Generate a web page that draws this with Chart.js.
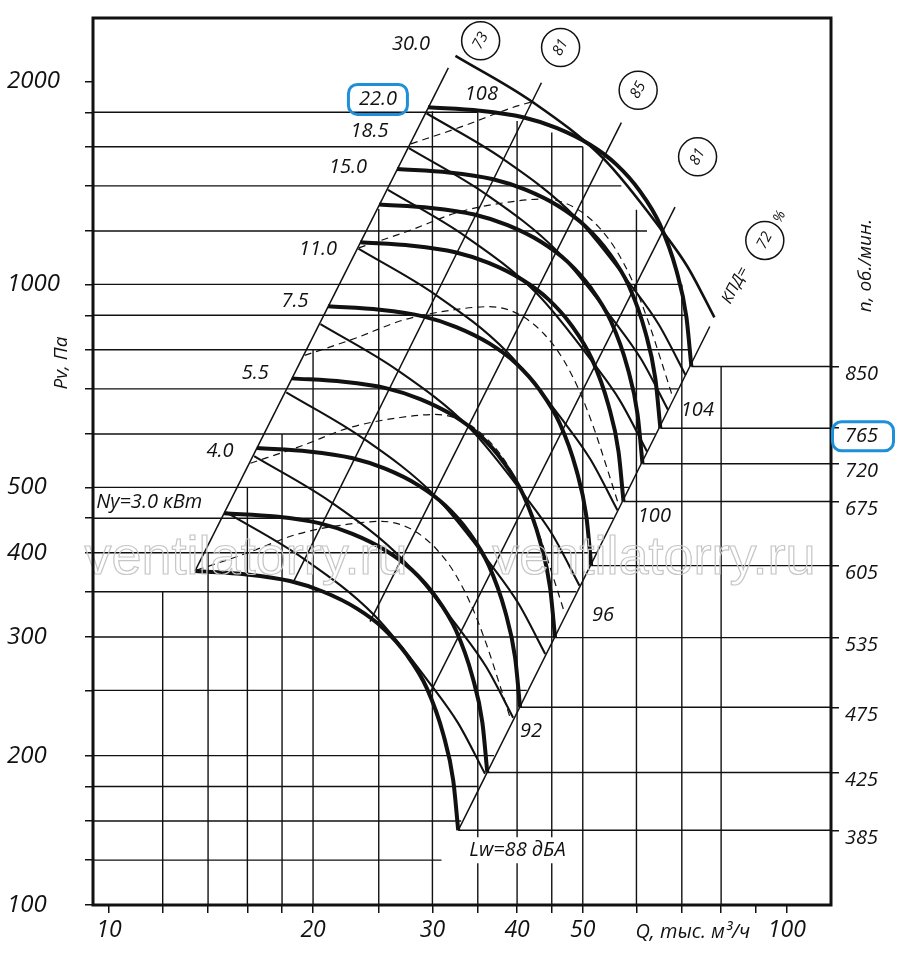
<!DOCTYPE html>
<html lang="ru">
<head>
<meta charset="utf-8">
<title>Аэродинамическая характеристика</title>
<script src="https://cdn.jsdelivr.net/npm/chart.js@4.4.1/dist/chart.umd.min.js"></script>
<style>
  html, body { margin: 0; padding: 0; background: #fff; }
  #wrap { position: relative; width: 900px; height: 957px; }
</style>
</head>
<body>
<div id="wrap"><canvas id="chart"></canvas></div>
<script>
// axis ranges: Q, thousand m3/h and Pv, Pa
const qMin = 9.47, qMax = 116.2;
const pMin = 120.1, pMax = 2484;

// ticks
const qTicks = [10, 12, 14, 16, 18, 20, 25, 30, 35, 40, 45, 50, 60, 70, 80, 90, 100];
const qTickLabels = [10, 20, 30, 40, 50, 100];
const pTicks = [140, 160, 180, 200, 250, 300, 350, 400, 450, 500, 600, 700, 800, 900, 1000, 1200, 1400, 1600, 1800, 2000];
const pTickLabels = [200, 300, 400, 500, 1000, 2000];
const rpmTicks = [385, 425, 475, 535, 605, 675, 720, 765, 850];

// grid lines (stepped working area)
const gridQ = [12, 14, 16, 18, 20, 25, 30, 35, 40, 45, 50, 60, 70, 80];
const gridQTop = [350, 400, 500, 600, 800, 1294, 1807, 1800, 1747, 1680, 1600, 1290, 1000, 754.5];
const gridP = [140, 160, 180, 200, 250, 300, 350, 400, 450, 500, 600, 700, 800, 900, 1000, 1200, 1400, 1600, 1800];
const gridPEnd = [30.94, 33.08, 35.09, 36.99, 41.35, 45.30, 48.93, 52.31, 55.48, 58.48, 64.06, 69.1, 71.9, 71.0, 69.3, 62.2, 57.0, 50.0, 35.0];

// fan curves, one per speed (об./мин.)
const q385 = [13.39, 15.96, 18.49, 20.71, 23.19, 25.38, 27.48, 29.42, 31.12, 32.20, 32.75];
const p385 = [375.7, 371.3, 363.1, 350.1, 330.8, 309.1, 282.4, 252.1, 215.3, 183.7, 155.0];
const q425 = [14.78, 17.62, 20.41, 22.86, 25.60, 28.02, 30.34, 32.48, 34.35, 35.55, 36.15];
const p425 = [457.8, 452.5, 442.5, 426.6, 403.1, 376.7, 344.1, 307.2, 262.4, 223.9, 188.9];
const q475 = [16.52, 19.69, 22.81, 25.55, 28.61, 31.31, 33.90, 36.30, 38.40, 39.73, 40.41];
const p475 = [571.9, 565.2, 552.7, 532.9, 503.5, 470.5, 429.9, 383.7, 327.7, 279.6, 235.9];
const q535 = [18.61, 22.18, 25.69, 28.78, 32.23, 35.27, 38.19, 40.88, 43.25, 44.75, 45.51];
const p535 = [725.5, 717.0, 701.2, 676.1, 638.8, 596.9, 545.3, 486.8, 415.7, 354.7, 299.3];
const q605 = [21.04, 25.08, 29.06, 32.54, 36.44, 39.88, 43.18, 46.23, 48.90, 50.60, 51.46];
const p605 = [927.8, 916.9, 896.6, 864.5, 816.9, 763.3, 697.4, 622.5, 531.7, 453.6, 382.8];
const q675 = [23.48, 27.98, 32.42, 36.31, 40.66, 44.50, 48.18, 51.58, 54.56, 56.46, 57.42];
const p675 = [1154.9, 1141.3, 1116.1, 1076.2, 1016.8, 950.1, 868.1, 774.9, 661.8, 564.7, 476.5];
const q720 = [25.04, 29.85, 34.58, 38.73, 43.37, 47.46, 51.39, 55.02, 58.20, 60.22, 61.25];
const p720 = [1314.0, 1298.6, 1269.9, 1224.4, 1156.9, 1081.0, 987.7, 881.7, 753.0, 642.5, 542.1];
const q765 = [26.61, 31.71, 36.74, 41.15, 46.08, 50.43, 54.60, 58.46, 61.84, 63.98, 65.08];
const p765 = [1483.3, 1466.0, 1433.6, 1382.3, 1306.1, 1220.4, 1115.0, 995.3, 850.0, 725.3, 612.0];
const q850 = [29.56, 35.24, 40.82, 45.72, 51.20, 56.03, 60.67, 64.95, 68.71, 71.09, 72.31];
const p850 = [1831.3, 1809.8, 1769.9, 1706.5, 1612.4, 1506.7, 1376.5, 1228.8, 1049.4, 895.4, 755.5];

// motor power lines, кВт
const qN3 = [14.88, 19.31, 24.61, 30.09, 32.72, 35.87];
const pN3 = [459.4, 392.7, 323.3, 252.1, 223.7, 188.0];
const qN4 = [16.37, 21.25, 27.08, 33.11, 36.01, 39.47];
const pN4 = [556.4, 475.6, 391.6, 305.3, 270.9, 227.7];
const qN55 = [18.26, 23.70, 30.20, 36.92, 40.15, 44.01];
const pN55 = [691.8, 591.3, 486.8, 379.6, 336.8, 283.1];
const qN75 = [20.51, 26.62, 33.93, 41.48, 45.11, 49.45];
const pN75 = [873.2, 746.4, 614.5, 479.2, 425.2, 357.3];
const qN11 = [23.33, 30.29, 38.60, 47.19, 51.31, 56.25];
const pN11 = [1130.0, 966.0, 795.2, 620.1, 550.3, 462.4];
const qN15 = [25.80, 33.48, 42.67, 52.17, 56.73, 62.19];
const pN15 = [1381.1, 1180.6, 971.9, 757.9, 672.5, 565.2];
const qN185 = [27.70, 35.96, 45.82, 56.02, 60.92, 66.78];
const pN185 = [1592.7, 1361.5, 1120.9, 874.0, 775.6, 651.8];
const qN22 = [29.40, 38.17, 48.63, 59.46, 64.66, 70.88];
const pN22 = [1794.2, 1533.7, 1262.7, 984.6, 873.7, 734.2];
const qN30 = [32.44, 42.10, 53.65, 65.59, 71.33, 78.19];
const pN30 = [2183.4, 1866.4, 1536.6, 1198.2, 1063.2, 893.5];

// dashed curves
const qD1 = [13.47, 15.96, 18.92, 22.42, 25.24, 27.96, 30.43, 32.35, 34.27, 36.06, 37.69, 39.13];
const pD1 = [376.9, 399.3, 425.9, 440.6, 445.2, 433.2, 404.8, 373.1, 333.5, 292.2, 255.1, 226.5];
const qD2 = [16.17, 19.16, 22.71, 26.91, 30.30, 33.56, 36.53, 38.83, 41.13, 43.28, 45.24, 46.97];
const pD2 = [543.0, 575.3, 613.6, 634.8, 641.4, 624.1, 583.2, 537.5, 480.5, 421.0, 367.5, 326.3];
const qD3 = [19.44, 23.03, 27.30, 32.35, 36.42, 40.34, 43.91, 46.68, 49.45, 52.03, 54.38, 56.46];
const pD3 = [784.7, 831.3, 886.7, 917.3, 926.9, 901.9, 842.8, 776.8, 694.3, 608.4, 531.1, 471.6];
const qD4 = [23.36, 27.67, 32.81, 38.87, 43.76, 48.48, 52.76, 56.09, 59.42, 62.52, 65.35, 67.85];
const pD4 = [1133.1, 1200.4, 1280.4, 1324.6, 1338.4, 1302.4, 1217.0, 1121.7, 1002.6, 878.5, 766.9, 680.9];
const qD5 = [27.89, 33.05, 39.18, 42.10];
const pD5 = [1616.2, 1712.3, 1826.3, 1866.4];

// efficiency rays (КПД, %): lower and upper ends
const effValues = [73, 81, 85, 81, 72];
const effQLow = [13.39, 18.71, 24.27, 29.65, 32.75];
const effPLow = [375.7, 362.0, 316.2, 245.9, 155.0];
const effQHigh = [31.67, 43.45, 57.0, 68.4, 76.98];
const effPHigh = [2095, 1991, 1738, 1302, 866.2];

const ink = '#111';
const family = "'Open Sans', 'DejaVu Sans', sans-serif";

const rpmCurves = [
  [385, q385, p385], [425, q425, p425], [475, q475, p475], [535, q535, p535], [605, q605, p605],
  [675, q675, p675], [720, q720, p720], [765, q765, p765], [850, q850, p850],
];
const powerCurves = [
  [qN3, pN3], [qN4, pN4], [qN55, pN55], [qN75, pN75], [qN11, pN11],
  [qN15, pN15], [qN185, pN185], [qN22, pN22],
];
const dashedCurves = [[qD1, pD1], [qD2, pD2], [qD3, pD3], [qD4, pD4], [qD5, pD5]];

// text placed at chart coordinates (Q, P)
const powerLabels = [
  ['30.0', 27.89, 2271], ['22.0', 24.93, 1881], ['18.5', 24.23, 1687], ['15.0', 22.52, 1493],
  ['11.0', 20.34, 1126], ['7.5', 18.81, 945.5], ['5.5', 16.44, 739.2], ['4.0', 14.58, 566.2],
  ['Nу=3.0 кВт', 11.46, 474.6],
];
const noiseLabels = [['108', 35.43, 1913], ['104', 73.8, 650.7], ['100', 63.77, 452.6], ['96', 53.55, 322.8], ['92', 41.92, 217.7]];
const effCircleAt = [[35.34, 2298], [46.37, 2246], [60.35, 1941], [73.85, 1546], [92.8, 1162]];
const watermarkAt = [[15.93, 391], [63.66, 391]];

// rpm axis follows P ~ n^2, anchored on the 850 curve end
const pRef = p850[p850.length - 1];
const nMin = 850 * Math.sqrt(pMin / pRef);
const nMax = 850 * Math.sqrt(pMax / pRef);

function pts(qs, ps) {
  return qs.map((q, i) => ({ x: q, y: ps[i] }));
}

function line(data, width, extra = {}) {
  return {
    data, borderColor: ink, borderWidth: width, pointRadius: 0, fill: false,
    tension: 0, yAxisID: 'y', ...extra,
  };
}

const datasets = [];
rpmCurves.forEach(([, q, p]) => datasets.push(line(pts(q, p), 4, { cubicInterpolationMode: 'monotone', order: 1 })));
datasets.push(line(pts(qN30, pN30), 2.6, { cubicInterpolationMode: 'monotone', order: 2 }));
powerCurves.forEach(([q, p]) => datasets.push(line(pts(q, p), 2.1, { cubicInterpolationMode: 'monotone', order: 3 })));
dashedCurves.forEach(([q, p]) => datasets.push(line(pts(q, p), 1.2, { cubicInterpolationMode: 'monotone', borderDash: [7, 5], order: 4 })));
effValues.forEach((_, i) => datasets.push(line([{ x: effQLow[i], y: effPLow[i] }, { x: effQHigh[i], y: effPHigh[i] }], 1.5, { order: 5 })));
gridQ.forEach((q, i) => datasets.push(line([{ x: q, y: pMin }, { x: q, y: gridQTop[i] }], 1.4, { order: 6 })));
gridP.forEach((p, i) => datasets.push(line([{ x: qMin, y: p }, { x: gridPEnd[i], y: p }], 1.4, { order: 6 })));
rpmCurves.forEach(([n, q]) => datasets.push(line([{ x: q[q.length - 1], y: n }, { x: qMax, y: n }], 1.4, { yAxisID: 'n', order: 6 })));

function drawText(ctx, text, x, y, size, angle = 0, align = 'center') {
  ctx.save();
  ctx.translate(x, y);
  ctx.rotate(angle);
  ctx.font = `italic ${size}px ${family}`;
  ctx.textAlign = align;
  ctx.textBaseline = 'middle';
  ctx.fillStyle = ink;
  ctx.fillText(text, 0, 0);
  ctx.restore();
}

function blueBox(ctx, cx, cy, w, h) {
  ctx.save();
  ctx.strokeStyle = '#1e8fd8';
  ctx.lineWidth = 3;
  ctx.beginPath();
  ctx.roundRect(cx - w / 2, cy - h / 2, w, h, 9);
  ctx.stroke();
  ctx.restore();
}

const decorations = {
  id: 'decorations',
  afterDatasetsDraw(chart) {
    const { ctx, chartArea: a, scales } = chart;
    const px = (q) => scales.x.getPixelForValue(q);
    const py = (p) => scales.y.getPixelForValue(p);
    const slant = -1.08;

    ctx.save();
    ctx.font = "54px 'Liberation Sans', Arial, sans-serif";
    ctx.textAlign = 'center';
    ctx.textBaseline = 'middle';
    ctx.strokeStyle = '#c6c6c6';
    ctx.lineWidth = 1.2;
    watermarkAt.forEach(([q, p]) => ctx.strokeText('ventilatorry.ru', px(q), py(p)));
    ctx.restore();

    ctx.save();
    ctx.strokeStyle = ink;
    ctx.lineWidth = 3;
    ctx.strokeRect(a.left, a.top, a.right - a.left, a.bottom - a.top);
    ctx.restore();

    powerLabels.forEach(([t, q, p]) => drawText(ctx, t, px(q), py(p), 20));
    noiseLabels.forEach(([t, q, p]) => drawText(ctx, t, px(q), py(p), 20));

    // Lw label sits on a white patch over the grid
    const lx = px(40.05), ly = py(144.8);
    ctx.save();
    ctx.font = `italic 20px ${family}`;
    const lw = ctx.measureText('Lw=88 дБА').width + 12;
    ctx.fillStyle = '#fff';
    ctx.fillRect(lx - lw / 2, ly - 13, lw, 26);
    ctx.restore();
    drawText(ctx, 'Lw=88 дБА', lx, ly, 20);

    effCircleAt.forEach(([q, p], i) => {
      const cx = px(q), cy = py(p);
      ctx.save();
      ctx.strokeStyle = ink;
      ctx.lineWidth = 1.5;
      ctx.beginPath();
      ctx.arc(cx, cy, 19, 0, Math.PI * 2);
      ctx.stroke();
      ctx.restore();
      drawText(ctx, String(effValues[i]), cx, cy, 15, slant);
    });
    drawText(ctx, 'КПД=', px(83.95), py(996.6), 16, slant);
    drawText(ctx, '%', px(97.6), py(1260), 14, slant);

    drawText(ctx, 'Pv, Па', a.left - 31, py(764.6), 19, -Math.PI / 2);
    drawText(ctx, 'n, об./мин.', a.right + 35, py(1066.6), 19, -Math.PI / 2);
    drawText(ctx, 'Q, тыс. м³/ч', px(60) - 1, a.bottom + 27, 20, 0, 'left');

    blueBox(ctx, px(24.93), py(1881), 59, 30);
    blueBox(ctx, a.right + 32, scales.n.getPixelForValue(765) + 8, 61, 29);
  },
};

const tickFont = (size) => ({ family, size, style: 'italic' });
const tickGrid = { drawOnChartArea: false, drawTicks: true, tickLength: 8, color: ink, lineWidth: 1.5 };

new Chart(document.getElementById('chart'), {
  type: 'line',
  data: { datasets },
  options: {
    responsive: true,
    maintainAspectRatio: false,
    animation: false,
    events: [],
    layout: { padding: { left: 7, top: 13, right: 0, bottom: 0 } },
    plugins: { legend: { display: false }, tooltip: { enabled: false } },
    scales: {
      x: {
        type: 'logarithmic',
        min: qMin,
        max: qMax,
        afterBuildTicks: (s) => { s.ticks = qTicks.map((v) => ({ value: v })); },
        afterFit: (s) => { s.height = 52; },
        ticks: {
          autoSkip: false, maxRotation: 0, minRotation: 0, padding: 4,
          color: ink, font: tickFont(23),
          callback: (v) => (qTickLabels.includes(v) ? String(v) : ''),
        },
        grid: tickGrid,
        border: { display: false },
      },
      y: {
        type: 'logarithmic',
        position: 'left',
        min: pMin,
        max: pMax,
        afterBuildTicks: (s) => { s.ticks = [pMin, ...pTicks].map((v) => ({ value: v })); },
        afterFit: (s) => { s.width = 86; },
        ticks: {
          autoSkip: false, crossAlign: 'far', color: ink, font: tickFont(24),
          callback: (v) => (v === pMin ? '100' : pTickLabels.includes(v) ? String(v) : ''),
        },
        grid: tickGrid,
        border: { display: false },
      },
      n: {
        type: 'logarithmic',
        axis: 'y',
        position: 'right',
        min: nMin,
        max: nMax,
        afterBuildTicks: (s) => { s.ticks = rpmTicks.map((v) => ({ value: v })); },
        afterFit: (s) => { s.width = 69; },
        ticks: {
          autoSkip: false, padding: 6, labelOffset: 8, color: ink, font: tickFont(20),
          callback: (v) => String(v),
        },
        grid: tickGrid,
        border: { display: false },
      },
    },
  },
  plugins: [decorations],
});
</script>
</body>
</html>
